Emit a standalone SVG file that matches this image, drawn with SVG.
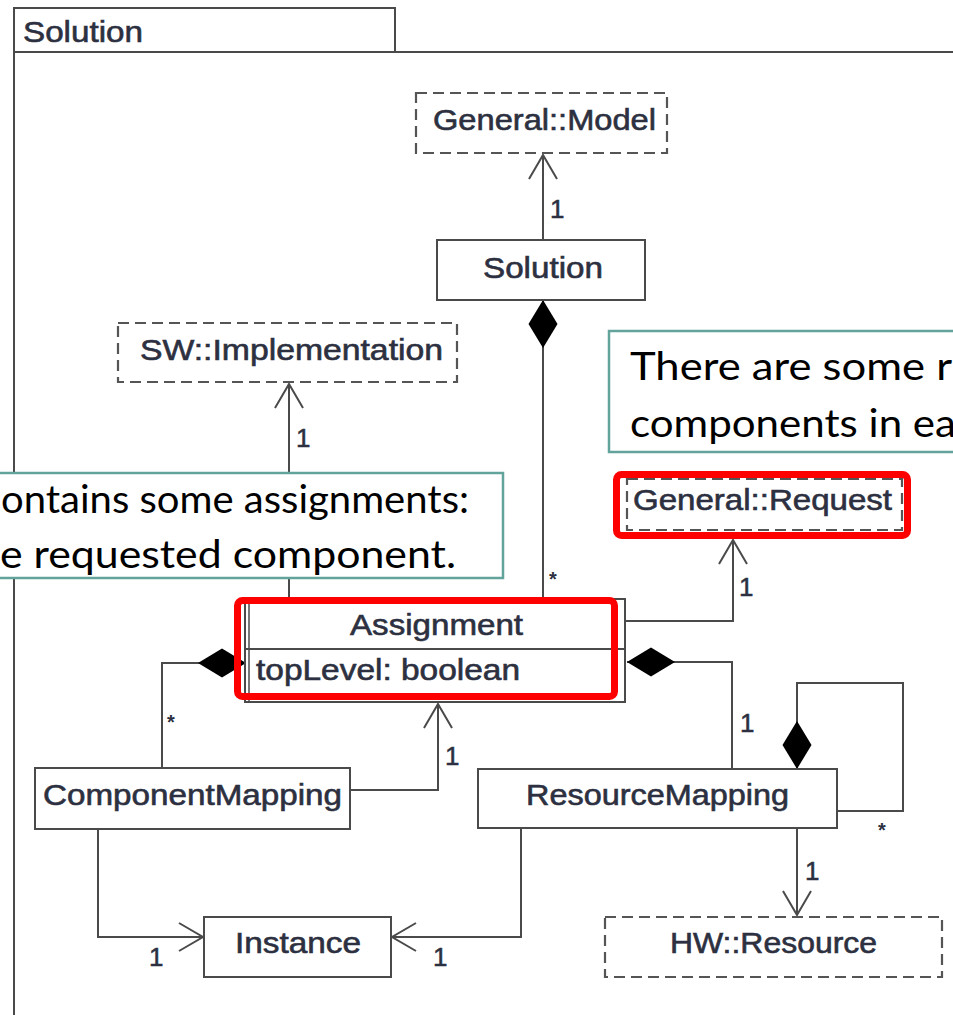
<svg xmlns="http://www.w3.org/2000/svg" width="953" height="1015" viewBox="0 0 953 1015">
<style>
.box{fill:#fff;stroke:#4a4a4a;stroke-width:2}
.dbox{fill:#fff;stroke:#555;stroke-width:2.2;stroke-dasharray:11 6}
.lbl{font-family:"Liberation Sans",Arial,sans-serif;font-size:29px;fill:#2c3040;stroke:#2c3040;stroke-width:0.6}
.mul{font-family:"Liberation Sans",Arial,sans-serif;font-size:26px;fill:#2c3040;stroke:#2c3040;stroke-width:0.5}
.star{font-family:"Liberation Sans",Arial,sans-serif;font-size:20px;font-weight:bold;fill:#2c3040}
.con{fill:none;stroke:#4a4a4a;stroke-width:2}
.note{fill:#fff;stroke:#62a39c;stroke-width:2.5}
.ntx{font-family:Lato,"Open Sans",sans-serif;font-size:38px;fill:#000}
.hl{fill:none;stroke:#ff0000;stroke-width:7}
</style>
<defs>
<marker id="arrow" viewBox="-27 -16 29 32" refX="0" refY="0" markerWidth="29" markerHeight="32" markerUnits="userSpaceOnUse" orient="auto"><path d="M-24,-14 L0,0 L-24,14" fill="none" stroke="#4a4a4a" stroke-width="2"/></marker>
<marker id="diamond" viewBox="0 -16 50 32" refX="0" refY="0" markerWidth="50" markerHeight="32" markerUnits="userSpaceOnUse" orient="auto"><path d="M0,0 L24,-14.5 L48,0 L24,14.5 Z" fill="#000"/></marker>
</defs>
<rect width="953" height="1015" fill="#fff"/>

<g id="frame">
<rect x="14" y="8" width="381" height="44" fill="#fff" stroke="#4a4a4a" stroke-width="2"/>
<path d="M14,52 H953 M14,8 V1015" class="con"/>
<text x="23" y="42" class="lbl" textLength="120" lengthAdjust="spacingAndGlyphs">Solution</text>
</g>

<g id="connectors">
<path d="M543,240 V155" class="con" marker-end="url(#arrow)"/>
<text x="550" y="218" class="mul">1</text>
<path d="M543,300 V598" class="con" marker-start="url(#diamond)"/>
<text x="549" y="586" class="star">*</text>
<path d="M289,598 V384" class="con" marker-end="url(#arrow)"/>
<text x="296" y="447" class="mul">1</text>
<path d="M625,621 H733 V540" class="con" marker-end="url(#arrow)"/>
<text x="739" y="596" class="mul">1</text>
<path d="M246,663 H162 V768" class="con" marker-start="url(#diamond)"/>
<text x="167" y="729" class="star">*</text>
<path d="M350,790 H438 V704" class="con" marker-end="url(#arrow)"/>
<text x="445" y="765" class="mul">1</text>
<path d="M627,662 H732 V769" class="con" marker-start="url(#diamond)"/>
<text x="740" y="732" class="mul">1</text>
<path d="M797,769 V683 H903 V811 H838" class="con" marker-start="url(#diamond)"/>
<text x="878" y="837" class="star">*</text>
<path d="M797,828 V915" class="con" marker-end="url(#arrow)"/>
<text x="805" y="880" class="mul">1</text>
<path d="M98,829 V937 H203" class="con" marker-end="url(#arrow)"/>
<text x="149" y="966" class="mul">1</text>
<path d="M521,828 V937 H392" class="con" marker-end="url(#arrow)"/>
<text x="433" y="966" class="mul">1</text>
</g>

<g id="general-model">
<rect x="416" y="93" width="251" height="60" class="dbox"/>
<text x="433" y="130" class="lbl" textLength="223" lengthAdjust="spacingAndGlyphs">General::Model</text>
</g>
<g id="solution">
<rect x="437" y="240" width="208" height="60" class="box"/>
<text x="483" y="278" class="lbl" textLength="120" lengthAdjust="spacingAndGlyphs">Solution</text>
</g>
<g id="sw-implementation">
<rect x="118" y="323" width="339" height="59" class="dbox"/>
<text x="140" y="360" class="lbl" textLength="303" lengthAdjust="spacingAndGlyphs">SW::Implementation</text>
</g>
<g id="general-request">
<rect x="627" y="479" width="275" height="51" class="dbox"/>
<text x="633" y="510" class="lbl" textLength="259" lengthAdjust="spacingAndGlyphs">General::Request</text>
</g>
<g id="assignment">
<rect x="245" y="599" width="380" height="103" class="box"/>
<path d="M249,599 V702" stroke="#4a4a4a" stroke-width="1.5"/>
<path d="M245,649 H625" stroke="#4a4a4a" stroke-width="2"/>
<text x="350" y="635" class="lbl" textLength="173" lengthAdjust="spacingAndGlyphs">Assignment</text>
<text x="256" y="680" class="lbl" textLength="264" lengthAdjust="spacingAndGlyphs">topLevel: boolean</text>
</g>
<g id="component-mapping">
<rect x="35" y="768" width="315" height="61" class="box"/>
<text x="43" y="805" class="lbl" textLength="299" lengthAdjust="spacingAndGlyphs">ComponentMapping</text>
</g>
<g id="resource-mapping">
<rect x="478" y="769" width="359" height="59" class="box"/>
<text x="526" y="805" class="lbl" textLength="263" lengthAdjust="spacingAndGlyphs">ResourceMapping</text>
</g>
<g id="instance">
<rect x="204" y="917" width="187" height="60" class="box"/>
<text x="235" y="953" class="lbl" textLength="126" lengthAdjust="spacingAndGlyphs">Instance</text>
</g>
<g id="hw-resource">
<rect x="605" y="917" width="337" height="60" class="dbox"/>
<text x="670" y="953" class="lbl" textLength="207" lengthAdjust="spacingAndGlyphs">HW::Resource</text>
</g>

<g id="note-left">
<rect x="-10" y="473" width="513" height="105" class="note"/>
<text x="1" y="513" class="ntx" textLength="468" lengthAdjust="spacingAndGlyphs">ontains some assignments:</text>
<text x="0" y="568" class="ntx" textLength="456" lengthAdjust="spacingAndGlyphs">e requested component.</text>
</g>
<g id="note-right">
<rect x="609" y="331" width="360" height="121" class="note"/>
<text x="630" y="380" class="ntx" textLength="322" lengthAdjust="spacingAndGlyphs">There are some r</text>
<text x="630" y="437" class="ntx" textLength="326" lengthAdjust="spacingAndGlyphs">components in ea</text>
</g>

<g id="highlights">
<rect x="237.5" y="600.5" width="377" height="96" rx="5" class="hl"/>
<rect x="616.5" y="474.5" width="291" height="61" rx="5" class="hl"/>
</g>
</svg>
